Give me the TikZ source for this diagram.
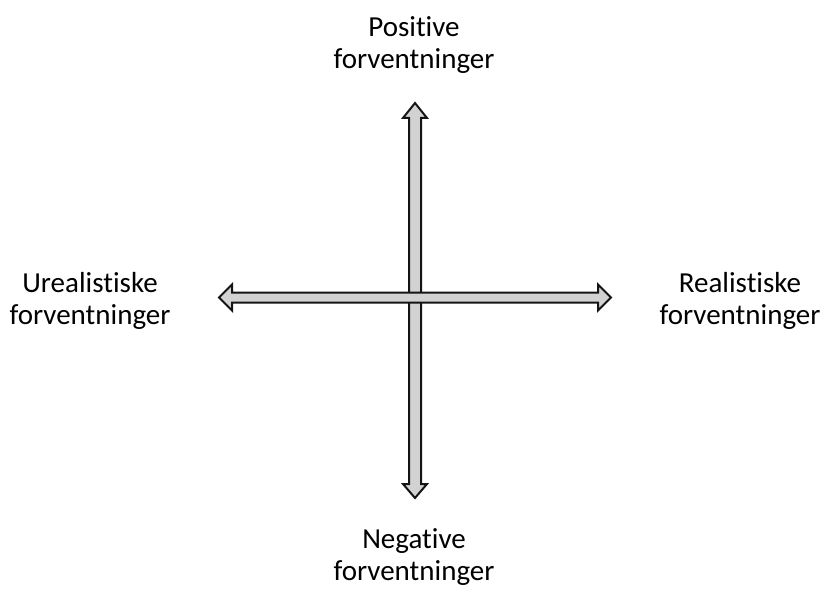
\documentclass[tikz,border=0pt]{standalone}
\usepackage{fontspec}
\setmainfont{Carlito}[Ligatures=NoCommon]
\usepackage{tikz}
\usetikzlibrary{calc}
\definecolor{arrowfill}{RGB}{210, 210, 210}
\definecolor{arrowline}{RGB}{20, 20, 20}

\begin{document}
\begin{tikzpicture}[
    x=0.75pt, y=-0.75pt,
    label/.style={align=center, inner sep=0pt, font=\fontsize{21.75}{24}\selectfont},
    blockarrow/.style={draw=arrowline, fill=arrowfill, line width=1.5pt, line join=miter}
]
    \useasboundingbox (0,0) rectangle (826,592);
    \coordinate (o) at (415,297.5);

    % Akser: vertikal foerst, horisontal over
    \draw[blockarrow, shift={(o)}] (0,-194.5) -- (12,-179.5) -- (6,-179.5) -- (6,186.5) -- (12,186.5)
        -- (0,200.5) -- (-12,186.5) -- (-6,186.5) -- (-6,-179.5) -- (-12,-179.5) -- cycle;
    \draw[blockarrow, shift={(o)}] (-196,0) -- (-183,-13) -- (-183,-5) -- (183,-5) -- (183,-13)
        -- (196,0) -- (183,13) -- (183,5) -- (-183,5) -- (-183,13) -- cycle;

    % Tekster
    \node[label] (pos) at (414,45) {Positive\\forventninger};
    \node[label] (neg) at (414,557) {Negative\\forventninger};
    \node[label] (ureal) at (90,301) {Urealistiske\\forventninger};
    \node[label] (real) at (740,301) {Realistiske\\forventninger};
\end{tikzpicture}
\end{document}
